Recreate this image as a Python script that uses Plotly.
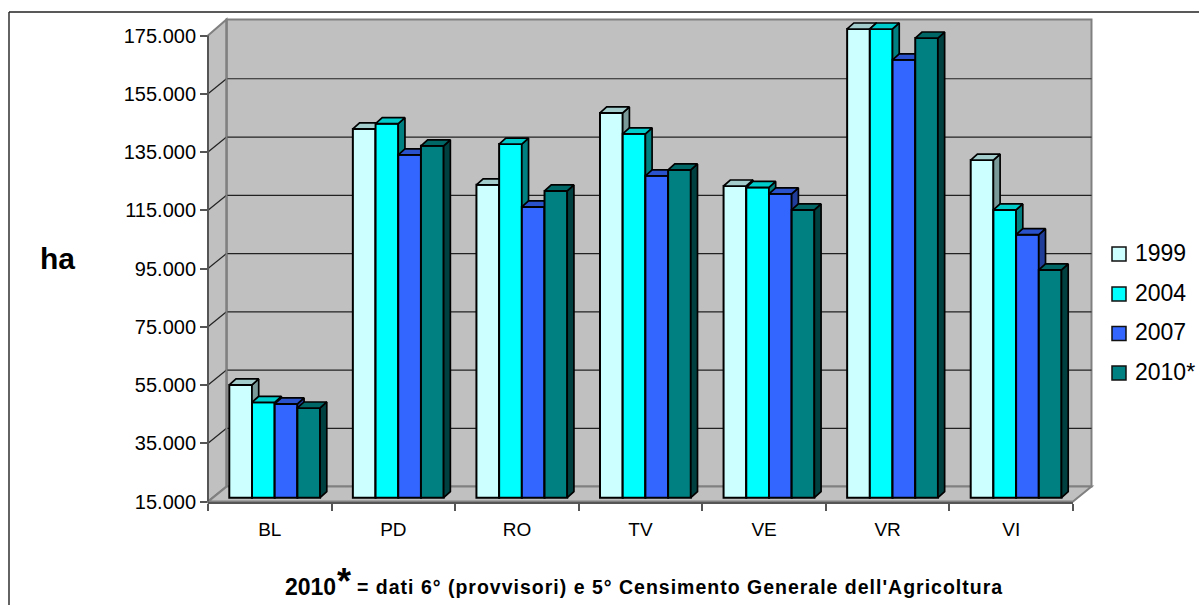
import plotly.graph_objects as go

categories = ["BL", "PD", "RO", "TV", "VE", "VR", "VI"]
series_names = ["1999", "2004", "2007", "2010*"]
values_1999 = [53700, 141600, 122400, 147100, 122000, 175900, 130900]
values_2004 = [47750, 143400, 136400, 139900, 121500, 175900, 113800]
values_2007 = [47200, 132700, 114800, 125500, 119300, 165300, 105300]
values_2010 = [45800, 135800, 120300, 127500, 113800, 172800, 93200]
y_ticks = [15000, 35000, 55000, 75000, 95000, 115000, 135000, 155000, 175000]
y_labels = ["15.000", "35.000", "55.000", "75.000", "95.000", "115.000", "135.000", "155.000", "175.000"]
front_colors = ["#CCFFFF", "#00FFFF", "#3366FF", "#008080"]
top_colors = ["#A3CCCC", "#00CCCC", "#2952CC", "#006666"]
side_colors = ["#7A9999", "#008080", "#1F3D99", "#004040"]

W, H = 1199, 605
PX_LEFT, PX_RIGHT = 208.0, 1073.0
PX_TOP, PX_BOTTOM = 35.5, 501.6
PX_CEIL = 4.0
WALL_DX, WALL_DY = 18.5, 15.0
BASE = y_ticks[0]
TOP = y_ticks[-1]

cat_px = (PX_RIGHT - PX_LEFT) / len(categories)
val_per_px = (TOP - BASE) / (PX_BOTTOM - PX_TOP)
CEIL = BASE + (PX_BOTTOM - PX_CEIL) * val_per_px
BAR_W = 22.7 / cat_px
DEPTH_X = 6.7 / cat_px
DEPTH_Y = 6.0 * val_per_px
SHIFT_X = 4.9 / cat_px
SHIFT_Y = 3.9 * val_per_px


def fx(px):
    return px / W


def fy(px):
    return 1 - px / H


def tick_px(v):
    return PX_BOTTOM - (v - BASE) / val_per_px


all_values = [values_1999, values_2004, values_2007, values_2010]
positions = list(range(len(categories)))
fig = go.Figure()

# empty trace keeps the main subplot (visible axes) alive
fig.add_trace(go.Scatter(x=[0], y=[BASE], mode="none", showlegend=False, hoverinfo="skip"))

layout_axes = {}
for s, vals in enumerate(all_values):
    n = s + 2
    offset = (s - 2) * BAR_W
    xa, ya = f"x{n}", f"y{n}"
    fig.add_trace(go.Bar(
        x=positions, y=[v - BASE for v in vals], base=BASE, name=series_names[s],
        width=BAR_W, offset=offset, xaxis=xa, yaxis=ya, cliponaxis=False,
        marker=dict(color=front_colors[s], line=dict(color="#000000", width=2)),
        showlegend=False, customdata=vals, hovertemplate="%{x}: %{customdata}<extra></extra>",
    ))
    tx, ty, sx, sy = [], [], [], []
    for c, v in zip(positions, vals):
        xl = c + offset
        xr = xl + BAR_W
        tx += [xl, xl + DEPTH_X, xr + DEPTH_X, xr, xl, None]
        ty += [v, v + DEPTH_Y, v + DEPTH_Y, v, v, None]
        sx += [xr, xr + DEPTH_X, xr + DEPTH_X, xr, xr, None]
        sy += [v, v + DEPTH_Y, BASE + DEPTH_Y, BASE, v, None]
    for px_, py_, col in ((sx, sy, side_colors[s]), (tx, ty, top_colors[s])):
        fig.add_trace(go.Scatter(
            x=px_, y=py_, mode="lines", fill="toself", fillcolor=col,
            line=dict(color="#000000", width=1.7), xaxis=xa, yaxis=ya,
            cliponaxis=False, showlegend=False, hoverinfo="skip",
        ))
    layout_axes[f"xaxis{n}"] = dict(
        overlaying="x", visible=False, type="linear",
        range=[-0.5 - SHIFT_X, len(categories) - 0.5 - SHIFT_X],
    )
    layout_axes[f"yaxis{n}"] = dict(
        overlaying="y", visible=False, type="linear",
        range=[BASE - SHIFT_Y, CEIL - SHIFT_Y],
    )

shapes = []
WALL = "#C0C0C0"
EDGE = "#808080"


def poly(points, fill, line_col, lw=2.0):
    path = "M " + " L ".join(f"{fx(a):.5f},{fy(b):.5f}" for a, b in points) + " Z"
    shapes.append(dict(type="path", path=path, xref="paper", yref="paper", fillcolor=fill,
                       line=dict(color=line_col, width=lw), layer="below"))


def seg(x0, y0, x1, y1, col, lw=1.2):
    shapes.append(dict(type="line", xref="paper", yref="paper", x0=fx(x0), y0=fy(y0), x1=fx(x1), y1=fy(y1),
                       line=dict(color=col, width=lw), layer="below"))


# walls and floor
bx0, bx1 = PX_LEFT + WALL_DX, PX_RIGHT + WALL_DX
by_top, by_bot = PX_TOP - WALL_DY - 1.0, PX_BOTTOM - WALL_DY
poly([(bx0, by_top), (bx1, by_top), (bx1, by_bot), (bx0, by_bot)], WALL, EDGE)
poly([(PX_LEFT, PX_TOP), (bx0, by_top), (bx0, by_bot), (PX_LEFT, PX_BOTTOM)], WALL, EDGE)
poly([(PX_LEFT, PX_BOTTOM), (bx0, by_bot), (bx1, by_bot), (PX_RIGHT, PX_BOTTOM)], WALL, EDGE)
# gridlines
for v in y_ticks[1:-1]:
    p = tick_px(v)
    seg(bx0, p - WALL_DY, bx1, p - WALL_DY, "#222222")
    seg(PX_LEFT, p, bx0, p - WALL_DY, "#222222")
seg(bx0, by_top, bx0, by_bot, EDGE, 2.0)
# value axis line (only up to the top tick)
seg(PX_LEFT, PX_TOP, PX_LEFT, PX_BOTTOM, "#555555", 2.0)

# outer frame of the picture
seg(9, 12, 9, H, "#222222", 1.4)
seg(9, 12, W, 12, "#222222", 1.4)

FONT = "Liberation Sans"
annotations = []


def text(x, y, s, size, bold=False, anchor="left"):
    annotations.append(dict(
        x=fx(x), y=fy(y), xref="paper", yref="paper", text=f"<b>{s}</b>" if bold else s, showarrow=False,
        xanchor=anchor, yanchor="middle", font=dict(family=FONT, size=size, color="#000000"),
        borderpad=0,
    ))


# legend
legend_rows = [254, 294, 333.5, 373]
for name, col, row in zip(series_names, front_colors, legend_rows):
    shapes.append(dict(type="rect", xref="paper", yref="paper", x0=fx(1112), x1=fx(1126),
                       y0=fy(row - 7), y1=fy(row + 7), fillcolor=col,
                       line=dict(color="#111111", width=1.5)))
    text(1134, row - 1, name, 23)

text(57, 259, "ha", 30, bold=True, anchor="center")
text(284, 587, "2010", 23, bold=True)
text(336, 581, "*", 36, bold=True)
text(356, 587, '<span style="letter-spacing:1px">= dati 6° (provvisori) e 5° Censimento Generale dell\'Agricoltura</span>', 19.5, bold=True)

fig.update_layout(
    width=W, height=H, margin=dict(l=0, r=0, t=0, b=0),
    paper_bgcolor="#FFFFFF", plot_bgcolor="rgba(0,0,0,0)",
    showlegend=False, shapes=shapes, annotations=annotations,
    font=dict(family=FONT, color="#000000"),
    xaxis=dict(
        domain=[fx(PX_LEFT), fx(PX_RIGHT)], type="linear", range=[-0.5, len(categories) - 0.5],
        automargin=False,
        tickmode="array", tickvals=positions, ticktext=categories, showgrid=False, zeroline=False,
        showline=True, linecolor="#555555", linewidth=2,
        ticks="outside", ticklen=10, tickcolor="rgba(0,0,0,0)", tickfont=dict(size=19, family=FONT),
        minor=dict(tickmode="array", tickvals=[p - 0.5 for p in positions] + [positions[-1] + 0.5],
                   ticks="outside", ticklen=7, tickcolor="#555555", tickwidth=1.5, showgrid=False),
    ),
    yaxis=dict(
        domain=[fy(PX_BOTTOM), fy(PX_CEIL)], type="linear", range=[BASE, CEIL],
        automargin=False,
        tickmode="array", tickvals=y_ticks, ticktext=y_labels, showgrid=False, zeroline=False,
        showline=False,
        ticks="outside", ticklen=7, tickcolor="#555555", tickwidth=1.5, tickfont=dict(size=20, family=FONT),
    ),
    **layout_axes,
)

fig.write_html("out.html", config=dict(displayModeBar=False),
               post_script="document.body.style.margin='0';document.body.style.overflow='hidden';")
